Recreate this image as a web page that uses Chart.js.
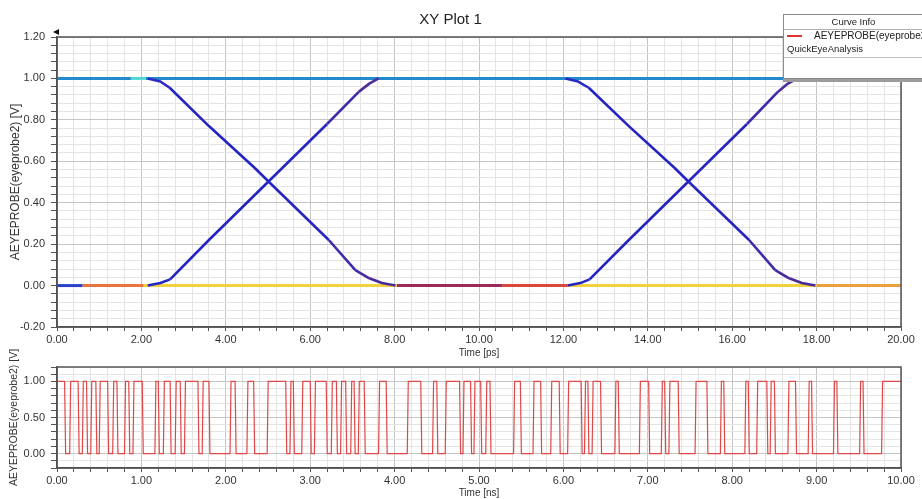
<!DOCTYPE html>
<html><head><meta charset="utf-8">
<script src="https://cdn.jsdelivr.net/npm/chart.js@4/dist/chart.umd.min.js"></script>
<style>
html,body{margin:0;padding:0;background:#fff;}
body{width:922px;height:499px;overflow:hidden;position:relative;font-family:"Liberation Sans",Arial,sans-serif;}
#topWrap{position:absolute;left:0;top:0;width:922px;height:362px;}
#botWrap{position:absolute;left:0;top:340px;width:922px;height:159px;}
#legend{position:absolute;left:783px;top:14px;width:150px;height:63px;background:#fff;border:1px solid #8a8a8a;box-shadow:0 3px 0 #9c9c9c;color:#222;font-size:9.5px;}
#legend .hdr{position:absolute;left:0;top:0;width:139px;height:14px;line-height:14px;text-align:center;border-bottom:1px solid #b0b0b0;}
#legend .sw{position:absolute;left:3px;top:20px;width:15px;height:2px;background:#e03434;}
#legend .t1{position:absolute;left:30px;top:14px;line-height:14px;white-space:nowrap;font-size:10px;}
#legend .t2{position:absolute;left:3px;top:27px;line-height:14px;white-space:nowrap;}
#legend .div2{position:absolute;left:0;top:42px;width:150px;border-top:1px solid #c0c0c0;}
</style></head><body>
<div id="topWrap"><canvas id="topChart" width="922" height="362"></canvas></div>
<div id="botWrap"><canvas id="botChart" width="922" height="159"></canvas></div>
<div id="legend">
  <div class="hdr">Curve Info</div>
  <span class="sw"></span>
  <div class="t1">AEYEPROBE(eyeprobe2) [V]</div>
  <div class="t2">QuickEyeAnalysis</div>
  <div class="div2"></div>
</div>
<script>
// ---------------- DATA ----------------
// Eye diagram (top plot), time in ps, voltage in V
const fall1T = [2.15, 2.45, 2.67, 3.60, 4.70, 5.00, 6.44, 7.07, 7.40, 7.70, 8.02];
const fall1V = [1.00, 0.985, 0.955, 0.77, 0.565, 0.505, 0.22, 0.075, 0.035, 0.012, 0.00];
const rise1T = [2.15, 2.45, 2.68, 3.60, 5.00, 6.40, 7.15, 7.40, 7.62];
const rise1V = [0.00, 0.012, 0.03, 0.22, 0.50, 0.78, 0.935, 0.975, 1.00];
const fall2T = [12.05, 12.35, 12.60, 13.55, 14.65, 14.95, 16.40, 17.02, 17.35, 17.65, 17.97];
const fall2V = [1.00, 0.985, 0.955, 0.77, 0.565, 0.505, 0.22, 0.075, 0.035, 0.012, 0.00];
const rise2T = [12.10, 12.40, 12.62, 13.55, 14.95, 16.35, 17.08, 17.32, 17.55];
const rise2V = [0.00, 0.012, 0.03, 0.22, 0.50, 0.78, 0.935, 0.975, 1.00];
// colour of each edge segment
const fallColors = ['#2a2ac6','#2a2ac6','#2424c2','#2424c2','#2424c2','#2626c0','#3c2aa8','#472a9e','#4a2a98','#4a2a98'];
const riseColors = ['#2626c4','#2626c4','#2424c2','#2424c2','#2626c0','#3e2caa','#4c2d9c','#4c2d9c'];
// flat levels: breakpoints (ps) and colours
const highLevel = 1.0;
const highBreaks = [0, 1.75, 2.1, 20];
const highColors = ['#238bcc', '#4fd8d4', '#238bcc'];
const lowLevel = 0.0;
const lowBreaks = [0, 0.6, 2.05, 8.05, 10.55, 12.1, 18.0, 20];
const lowColors = ['#2b40cc', '#e8743e', '#f1d23c', '#9e2a5c', '#d9463c', '#f1d23c', '#eba040'];

// Bit stream (bottom plot), time in ns: intervals where the signal is high
const highStart = [0.00,0.15,0.30,0.40,0.50,0.66,0.80,0.90,1.16,1.26,1.40,1.51,1.72,2.05,2.25,2.49,2.76,2.90,3.05,3.25,3.36,3.48,3.57,3.81,4.15,4.45,4.60,4.81,4.94,5.08,5.41,5.64,5.85,6.05,6.25,6.34,6.61,6.90,7.16,7.25,7.56,7.86,8.15,8.29,8.45,8.66,8.90,9.20,9.51,9.77];
const highEnd   = [0.09,0.25,0.35,0.46,0.60,0.71,0.85,1.01,1.20,1.34,1.46,1.67,1.80,2.11,2.33,2.71,2.80,3.00,3.19,3.31,3.42,3.52,3.64,3.90,4.31,4.50,4.77,4.90,5.02,5.13,5.49,5.73,5.95,6.21,6.29,6.44,6.65,7.01,7.20,7.36,7.70,7.90,8.19,8.41,8.50,8.75,8.94,9.24,9.55,10.00];
const edgeTime = 0.012;   // rise/fall duration drawn for each bit edge (ns)

// Axes / ticks
const topX = {min: 0, max: 20, minor: 0.4};
const topXLabels = ['0.00','2.00','4.00','6.00','8.00','10.00','12.00','14.00','16.00','18.00','20.00'];
const topXLabelValues = [0,2,4,6,8,10,12,14,16,18,20];
const topY = {min: -0.2, max: 1.2, minor: 0.04};
const topYLabels = ['-0.20','0.00','0.20','0.40','0.60','0.80','1.00','1.20'];
const topYLabelValues = [-0.2,0,0.2,0.4,0.6,0.8,1.0,1.2];
const botX = {min: 0, max: 10, minor: 0.2};
const botXLabels = ['0.00','1.00','2.00','3.00','4.00','5.00','6.00','7.00','8.00','9.00','10.00'];
const botXLabelValues = [0,1,2,3,4,5,6,7,8,9,10];
const botY = {min: -0.2, max: 1.2, minor: 0.1};
const botYLabels = ['0.00','0.50','1.00'];
const botYLabelValues = [0,0.5,1.0];

const titleText = 'XY Plot 1';
const yTitle = 'AEYEPROBE(eyeprobe2) [V]';
const topXTitle = 'Time [ps]';
const botXTitle = 'Time [ns]';

// ---------------- helpers ----------------
const FONT = '"Liberation Sans", Arial, sans-serif';
function tickList(min, max, step){
  const n = Math.round((max-min)/step), out = [];
  for (let i=0;i<=n;i++) out.push({value: +(min + i*step).toFixed(6)});
  return out;
}
function findLabel(vals, labels, v){
  const i = vals.findIndex(x => Math.abs(x - v) < 1e-6);
  return i >= 0 ? labels[i] : '';
}
function isMajor(vals, v){ return vals.some(x => Math.abs(x - v) < 1e-6); }
function pts(ts, vs){ return ts.map((t,i)=>({x:t, y:vs[i]})); }

const framePlugin = {
  id: 'frame',
  afterDraw(chart, args, opts){
    const {ctx, chartArea:a} = chart;
    ctx.save();
    ctx.strokeStyle = '#555';
    ctx.lineWidth = 1.5;
    ctx.strokeRect(a.left, a.top, a.right - a.left, a.bottom - a.top);
    if (opts && opts.marker){
      ctx.fillStyle = '#111';
      ctx.beginPath();
      ctx.moveTo(a.left - 4, a.top - 5);
      ctx.lineTo(a.left + 2, a.top - 8);
      ctx.lineTo(a.left + 2, a.top - 2);
      ctx.closePath();
      ctx.fill();
    }
    ctx.restore();
  }
};

function makeX(cfg, labelVals, labels, title, height, titlePadBottom){
  return {
    type: 'linear', min: cfg.min, max: cfg.max,
    afterBuildTicks: s => { s.ticks = tickList(cfg.min, cfg.max, cfg.minor); },
    afterFit: s => { s.height = height; },
    ticks: { autoSkip: false, maxRotation: 0, padding: 2, color: '#333',
      font: {family: FONT, size: 11},
      callback: v => findLabel(labelVals, labels, v) },
    grid: { color: c => (c.tick && isMajor(labelVals, c.tick.value)) ? '#c6c6c6' : '#e4e4e4',
      lineWidth: 1, tickLength: 4, tickColor: '#555' },
    border: { display: true, color: '#444', width: 1.5 },
    title: { display: true, text: title, color: '#333', font: {family: FONT, size: 10},
      padding: {top: 0, bottom: titlePadBottom} }
  };
}
function makeY(cfg, labelVals, labels, titleSize){
  return {
    type: 'linear', min: cfg.min, max: cfg.max,
    afterBuildTicks: s => { s.ticks = tickList(cfg.min, cfg.max, cfg.minor); },
    afterFit: s => { s.width = 57; },
    ticks: { autoSkip: false, padding: 6, color: '#333',
      font: {family: FONT, size: 11},
      callback: v => findLabel(labelVals, labels, v) },
    grid: { color: c => (c.tick && isMajor(labelVals, c.tick.value)) ? '#c6c6c6' : '#e4e4e4',
      lineWidth: 1, tickLength: 6, tickColor: '#555' },
    border: { display: true, color: '#444', width: 1.5 },
    title: { display: true, text: yTitle, color: '#333', font: {family: FONT, size: titleSize},
      padding: {top: 8, bottom: 0} }
  };
}

// ---------------- top chart: eye diagram ----------------
const topSets = [];
function edgeSet(ts, vs, colors){
  return { data: pts(ts, vs), borderColor: colors[0], borderWidth: 2.6, pointRadius: 0,
    tension: 0, borderJoinStyle: 'round',
    segment: { borderColor: c => colors[c.p0DataIndex] || colors[colors.length-1] } };
}
topSets.push(edgeSet(fall1T, fall1V, fallColors));
topSets.push(edgeSet(rise1T, rise1V, riseColors));
topSets.push(edgeSet(fall2T, fall2V, fallColors));
topSets.push(edgeSet(rise2T, rise2V, riseColors));
for (let i=0;i<highColors.length;i++){
  topSets.push({ data: [{x: highBreaks[i], y: highLevel}, {x: highBreaks[i+1], y: highLevel}],
    borderColor: highColors[i], borderWidth: 3, pointRadius: 0 });
}
for (let i=0;i<lowColors.length;i++){
  topSets.push({ data: [{x: lowBreaks[i], y: lowLevel}, {x: lowBreaks[i+1], y: lowLevel}],
    borderColor: lowColors[i], borderWidth: 3, pointRadius: 0 });
}

new Chart(document.getElementById('topChart'), {
  type: 'line',
  data: { datasets: topSets },
  options: {
    responsive: false, animation: false, parsing: true,
    layout: { padding: { left: 0, right: 21, top: 0, bottom: 0 } },
    plugins: {
      legend: { display: false }, tooltip: { enabled: false },
      title: { display: true, text: titleText, color: '#222',
        font: {family: FONT, size: 15, weight: 'normal'}, padding: {top: 11, bottom: 8} },
      frame: { marker: true }
    },
    scales: {
      x: makeX(topX, topXLabelValues, topXLabels, topXTitle, 35, 3),
      y: makeY(topY, topYLabelValues, topYLabels, 12)
    }
  },
  plugins: [framePlugin]
});

// ---------------- bottom chart: bit stream ----------------
const wave = [];
for (let i=0;i<highStart.length;i++){
  const s = highStart[i], e = highEnd[i];
  if (s <= botX.min) wave.push({x: s, y: 1});
  else { wave.push({x: s, y: 0}); wave.push({x: s + edgeTime, y: 1}); }
  wave.push({x: e, y: 1});
  if (e < botX.max) wave.push({x: e + edgeTime, y: 0});
}

new Chart(document.getElementById('botChart'), {
  type: 'line',
  data: { datasets: [{ data: wave, borderColor: '#e04848', borderWidth: 1.2, pointRadius: 0, tension: 0 }] },
  options: {
    responsive: false, animation: false,
    layout: { padding: { left: 0, right: 21, top: 27, bottom: 0 } },
    plugins: { legend: { display: false }, tooltip: { enabled: false }, frame: { marker: false } },
    scales: {
      x: makeX(botX, botXLabelValues, botXLabels, botXTitle, 31, 0),
      y: makeY(botY, botYLabelValues, botYLabels, 10.5)
    }
  },
  plugins: [framePlugin]
});
</script>
</body></html>
